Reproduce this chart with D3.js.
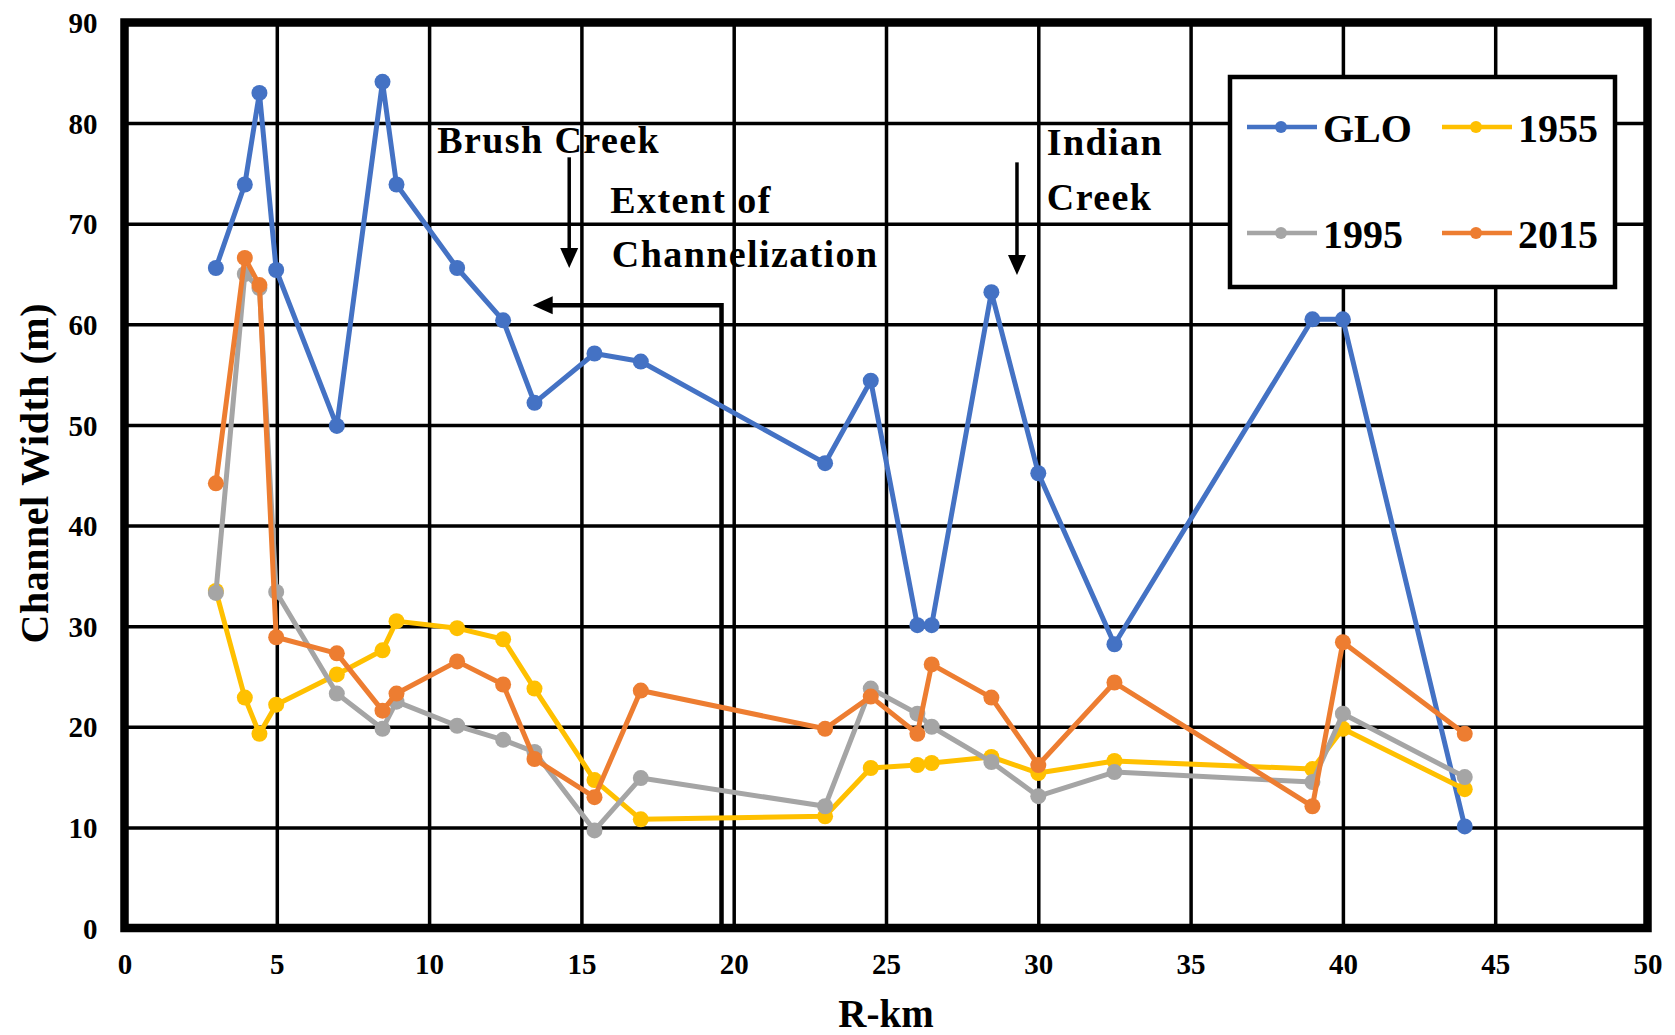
<!DOCTYPE html>
<html>
<head>
<meta charset="utf-8">
<script src="https://cdn.jsdelivr.net/npm/d3@7"></script>
<style>
  html, body { margin: 0; padding: 0; background: #fff; }
  svg { display: block; }
  text { font-family: "Liberation Serif", "Tinos", "Times New Roman", "DejaVu Serif", serif; font-weight: bold; fill: #000; }
</style>
</head>
<body>
<svg id="chart" width="1675" height="1035"></svg>
<script>
// River kilometre of each surveyed cross-section
const kmMarks = [3.0, 3.95, 4.43, 4.98, 6.97, 8.47, 8.93, 10.92, 12.43, 13.46, 15.43, 16.95,
                 23.0, 24.5, 26.03, 26.5, 28.46, 30.0, 32.5, 39.0, 40.0, 44.0];

// Channel width (m) per survey
const widthGLO  = [65.6, 73.9, 83.0, 65.4, 49.9, 84.1, 73.9, 65.6, 60.4, 52.2, 57.1, 56.3,
                   46.2, 54.4, 30.1, 30.1, 63.2, 45.2, 28.2, 60.5, 60.5, 10.1];
const width1955 = [33.5, 22.9, 19.3, 22.2, 25.2, 27.6, 30.5, 29.8, 28.7, 23.8, 14.7, 10.8,
                   11.1, 15.9, 16.2, 16.4, 17.0, 15.4, 16.6, 15.8, 19.8, 13.8];
const width1995 = [33.3, 65.0, 63.6, 33.4, 23.3, 19.8, 22.5, 20.1, 18.7, 17.5, 9.7, 14.9,
                   12.1, 23.8, 21.3, 20.0, 16.5, 13.1, 15.5, 14.5, 21.3, 15.0];
const width2015 = [44.2, 66.6, 63.9, 28.9, 27.3, 21.6, 23.3, 26.5, 24.2, 16.8, 13.0, 23.6,
                   19.8, 23.0, 19.3, 26.2, 22.9, 16.2, 24.4, 12.1, 28.4, 19.3];

const seriesNames = ["GLO", "1955", "1995", "2015"];
const xTicks = [0, 5, 10, 15, 20, 25, 30, 35, 40, 45, 50];
const yTicks = [0, 10, 20, 30, 40, 50, 60, 70, 80, 90];

const colors = { "GLO": "#4472C4", "1955": "#FFC000", "1995": "#A5A5A5", "2015": "#ED7D31" };
const seriesValues = { "GLO": widthGLO, "1955": width1955, "1995": width1995, "2015": width2015 };

const svg = d3.select("#chart");
const plotLeft = 124.5, plotRight = 1647.5, plotTop = 22.5, plotBottom = 928;

const x = d3.scaleLinear().domain([0, 50]).range([plotLeft, plotRight]);
const y = d3.scaleLinear().domain([0, 90]).range([plotBottom, plotTop]);

// Gridlines + tick labels
const gx = svg.append("g").attr("transform", `translate(0,${plotBottom})`)
  .call(d3.axisBottom(x).tickValues(xTicks).tickSize(-(plotBottom - plotTop)).tickFormat(d3.format("d")));
gx.select(".domain").remove();
gx.attr("font-family", null);
gx.selectAll("line").attr("stroke", "#000").attr("stroke-width", 3.5);
gx.selectAll("text").attr("y", 46).attr("dy", null).style("font-size", "29px");

const gy = svg.append("g").attr("transform", `translate(${plotLeft},0)`)
  .call(d3.axisLeft(y).tickValues(yTicks).tickSize(-(plotRight - plotLeft)).tickFormat(d3.format("d")));
gy.select(".domain").remove();
gy.attr("font-family", null);
gy.selectAll("line").attr("stroke", "#000").attr("stroke-width", 3.5);
gy.selectAll("text").attr("x", -27).attr("dy", "0.35em").style("font-size", "29px");

// Heavy plot frame
svg.append("rect")
  .attr("x", plotLeft).attr("y", plotTop)
  .attr("width", plotRight - plotLeft).attr("height", plotBottom - plotTop)
  .attr("fill", "none").attr("stroke", "#000").attr("stroke-width", 8.5);

// Axis titles
svg.append("text")
  .attr("x", (plotLeft + plotRight) / 2).attr("y", 1027)
  .attr("text-anchor", "middle").style("font-size", "39px")
  .text("R-km");
svg.append("text")
  .attr("transform", `translate(48,${(plotTop + plotBottom) / 2 - 2}) rotate(-90)`)
  .attr("text-anchor", "middle").style("font-size", "40px").style("letter-spacing", "0.5px")
  .text("Channel Width (m)");

// Annotations: tributary arrows and channelization extent
const ann = svg.append("g");
function arrowHead(tx, ty, dir) {
  // filled triangle with its tip at (tx, ty); dir "down" or "left"
  const pts = dir === "down"
    ? [[tx, ty], [tx - 9, ty - 20], [tx + 9, ty - 20]]
    : [[tx, ty], [tx + 20, ty - 9], [tx + 20, ty + 9]];
  ann.append("path").attr("d", d3.line()(pts) + "Z").attr("fill", "#000");
}
// Brush Creek
ann.append("line").attr("x1", x(14.6)).attr("x2", x(14.6))
  .attr("y1", y(76.6)).attr("y2", y(65.6) - 15).attr("stroke", "#000").attr("stroke-width", 3.5);
arrowHead(x(14.6), y(65.6), "down");
// Indian Creek
ann.append("line").attr("x1", x(29.3)).attr("x2", x(29.3))
  .attr("y1", y(76.1)).attr("y2", y(64.9) - 15).attr("stroke", "#000").attr("stroke-width", 3.5);
arrowHead(x(29.3), y(64.9), "down");
// Extent of channelization bracket
ann.append("path")
  .attr("d", d3.line()([[x(19.6), y(0)], [x(19.6), y(61.9)], [x(13.4) + 15, y(61.9)]]))
  .attr("fill", "none").attr("stroke", "#000").attr("stroke-width", 4.5);
arrowHead(x(13.4), y(61.9), "left");

const annText = [
  { t: "Brush Creek", kx: 10.27, ky: 77.0 },
  { t: "Extent of", kx: 15.95, ky: 71.1 },
  { t: "Channelization", kx: 16.0, ky: 65.7 },
  { t: "Indian", kx: 30.28, ky: 76.8 },
  { t: "Creek", kx: 30.28, ky: 71.4 }
];
ann.selectAll("text.note").data(annText).join("text")
  .attr("class", "note")
  .attr("x", d => x(d.kx)).attr("y", d => y(d.ky))
  .style("font-size", "38px").style("letter-spacing", "1.4px")
  .text(d => d.t);

// Series lines and markers
const line = d3.line().x(d => x(d.km)).y(d => y(d.w));
seriesNames.forEach(name => {
  const pts = kmMarks.map((km, i) => ({ km, w: seriesValues[name][i] }));
  const g = svg.append("g");
  g.append("path").datum(pts)
    .attr("d", line).attr("fill", "none")
    .attr("stroke", colors[name]).attr("stroke-width", 5)
    .attr("stroke-linejoin", "round");
  g.selectAll("circle").data(pts).join("circle")
    .attr("cx", d => x(d.km)).attr("cy", d => y(d.w)).attr("r", 8)
    .attr("fill", colors[name]);
});

// Legend
const lg = svg.append("g");
lg.append("rect").attr("x", 1230).attr("y", 77).attr("width", 385).attr("height", 210)
  .attr("fill", "#fff").attr("stroke", "#000").attr("stroke-width", 4.5);
const legendPos = [
  { name: "GLO",  lx: 1247, ly: 127, tx: 1323, ty: 142 },
  { name: "1955", lx: 1442, ly: 127, tx: 1518, ty: 142 },
  { name: "1995", lx: 1247, ly: 233, tx: 1323, ty: 248 },
  { name: "2015", lx: 1442, ly: 233, tx: 1518, ty: 248 }
];
legendPos.forEach(p => {
  lg.append("line").attr("x1", p.lx).attr("x2", p.lx + 70)
    .attr("y1", p.ly).attr("y2", p.ly)
    .attr("stroke", colors[p.name]).attr("stroke-width", 4.5);
  lg.append("circle").attr("cx", p.lx + 34).attr("cy", p.ly).attr("r", 6)
    .attr("fill", colors[p.name]);
  lg.append("text").attr("x", p.tx).attr("y", p.ty)
    .style("font-size", "40px").text(p.name);
});
</script>
</body>
</html>
